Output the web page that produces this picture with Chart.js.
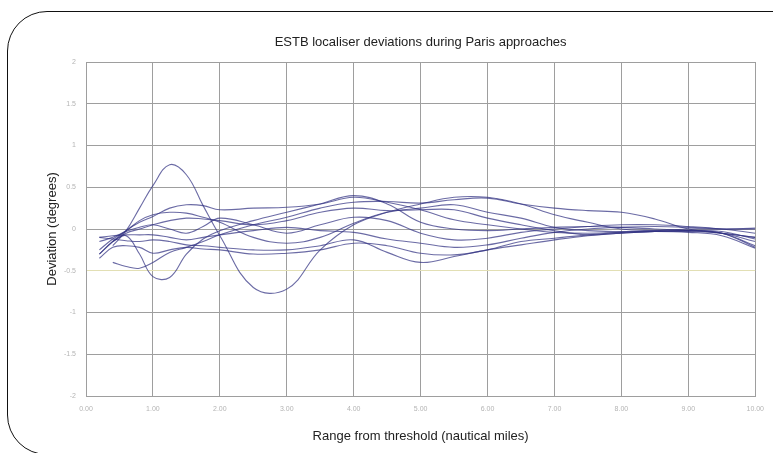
<!DOCTYPE html>
<html>
<head>
<meta charset="utf-8">
<script src="https://cdn.jsdelivr.net/npm/chart.js@4.4.0/dist/chart.umd.min.js"></script>
<style>
  html, body { margin: 0; padding: 0; background: #fff; }
  #wrap { position: relative; width: 773px; height: 453px; overflow: hidden; }
  #frame {
    position: absolute; left: 7px; top: 11px; width: 820px; height: 444px;
    box-sizing: border-box; border: 1.5px solid #111;
    border-top-left-radius: 40px; border-bottom-left-radius: 40px;
    pointer-events: none;
  }
</style>
</head>
<body>
<div id="wrap">
  <canvas id="devChart" width="773" height="453"></canvas>
  <div id="frame"></div>
</div>
<script>
// range from threshold (nautical miles)
const range = [0.2, 0.4, 0.6, 0.8, 1.0, 1.25, 1.5, 1.75, 2.0, 2.5, 3.0, 3.5, 4.0, 4.5, 5.0, 5.5, 6.0, 6.5, 7.0, 7.5, 8.0, 8.5, 9.0, 9.5, 10.0];

// deviation (degrees), one list per approach
const app1 = [null, -0.2, -0.02, 0.25, 0.52, 0.77, 0.65, 0.28, -0.08, -0.7, -0.72, -0.25, 0.05, 0.2, 0.3, 0.38, 0.38, 0.3, 0.17, 0.08, 0.0, -0.02, -0.03, -0.05, -0.1];
const app2 = [null, -0.15, -0.08, -0.3, -0.57, -0.58, -0.3, -0.12, -0.02, 0.1, 0.2, 0.3, 0.4, 0.3, 0.08, 0.0, -0.02, 0.0, 0.02, 0.03, 0.02, 0.0, -0.02, -0.05, -0.2];
const app3 = [-0.15, -0.1, -0.02, 0.1, 0.17, 0.2, 0.19, 0.14, 0.08, -0.1, -0.17, -0.1, 0.07, 0.2, 0.25, 0.29, 0.2, 0.13, 0.02, -0.02, -0.03, -0.03, -0.02, -0.05, -0.22];
const app4 = [-0.3, -0.15, -0.02, 0.08, 0.15, 0.25, 0.29, 0.28, 0.23, 0.25, 0.26, 0.3, 0.38, 0.32, 0.23, 0.11, 0.05, 0.0, -0.04, -0.05, -0.04, -0.02, 0.0, 0.0, 0.01];
const app5 = [null, -0.4, -0.45, -0.47, -0.4, -0.28, -0.22, -0.15, -0.07, 0.05, 0.14, 0.25, 0.32, 0.33, 0.31, 0.35, 0.37, 0.3, 0.25, 0.22, 0.2, 0.12, 0.0, -0.05, -0.1];
const app6 = [-0.1, -0.12, -0.14, -0.15, -0.13, -0.15, -0.19, -0.2, -0.22, -0.25, -0.25, -0.2, -0.13, -0.28, -0.4, -0.33, -0.25, -0.19, -0.13, -0.08, -0.05, -0.03, -0.02, -0.05, -0.15];
const app7 = [-0.1, -0.08, -0.07, -0.07, -0.07, -0.1, -0.13, -0.1, -0.07, -0.02, 0.02, -0.02, -0.04, -0.12, -0.17, -0.22, -0.19, -0.11, -0.04, 0.0, 0.02, 0.03, 0.02, 0.0, 0.0];
const app8 = [-0.25, -0.12, -0.03, 0.02, 0.05, 0.0, -0.05, 0.03, 0.13, 0.05, -0.05, 0.05, 0.14, 0.1, -0.05, -0.13, -0.11, -0.04, 0.0, 0.03, 0.05, 0.05, 0.03, 0.0, -0.05];
const app9 = [-0.35, -0.22, -0.2, -0.22, -0.29, -0.25, -0.22, -0.24, -0.25, -0.3, -0.29, -0.25, -0.17, -0.2, -0.29, -0.31, -0.25, -0.15, -0.11, -0.07, -0.04, -0.03, -0.04, -0.08, -0.23];
const app10 = [-0.3, -0.15, -0.05, 0.0, 0.05, 0.1, 0.13, 0.12, 0.1, 0.05, 0.1, 0.2, 0.25, 0.22, 0.23, 0.23, 0.13, 0.05, -0.02, -0.07, -0.05, -0.03, -0.02, -0.03, -0.12];

const approaches = [app1, app2, app3, app4, app5, app6, app7, app8, app9, app10];

const xTickLabels = ['0.00', '1.00', '2.00', '3.00', '4.00', '5.00', '6.00', '7.00', '8.00', '9.00', '10.00'];
const yTickLabels = ['-2', '-1.5', '-1', '-0.5', '0', '0.5', '1', '1.5', '2'];

const chartTitle = 'ESTB localiser deviations during Paris approaches';

// titre centré sur la zone de tracé
const titlePlugin = {
  id: 'plotTitle',
  afterDraw(chart) {
    const { ctx, chartArea } = chart;
    ctx.save();
    ctx.font = '13px "Liberation Sans", Arial, sans-serif';
    ctx.fillStyle = '#222';
    ctx.textAlign = 'center';
    ctx.textBaseline = 'middle';
    ctx.fillText(chartTitle, (chartArea.left + chartArea.right) / 2, 42);
    ctx.restore();
  }
};

const datasets = approaches.map(vals => ({
  data: vals.map((v, i) => ({ x: range[i], y: v })),
  borderColor: 'rgba(50, 50, 130, 0.72)',
  borderWidth: 1.1,
  pointRadius: 0,
  tension: 0.4,
  fill: false
}));

const devChart = new Chart(document.getElementById('devChart'), {
  type: 'line',
  data: { datasets: datasets },
  options: {
    responsive: false,
    animation: false,
    layout: { padding: { top: 62, right: 14, left: 0, bottom: 0 } },
    plugins: {
      legend: { display: false },
      tooltip: { enabled: false }
    },
    scales: {
      x: {
        type: 'linear',
        min: 0,
        max: 10,
        afterFit: s => { s.height = 57; },
        grid: { color: '#9e9e9e', lineWidth: 1, drawTicks: false },
        border: { color: '#9e9e9e' },
        ticks: {
          stepSize: 1,
          padding: 9,
          maxRotation: 0,
          autoSkip: false,
          color: '#b4b4b4',
          font: { size: 7, family: '"Liberation Sans", Arial, sans-serif' },
          callback: (v, i) => xTickLabels[i]
        },
        title: {
          display: true,
          text: 'Range from threshold (nautical miles)',
          color: '#222',
          padding: { top: 4, bottom: 9 },
          font: { size: 13, family: '"Liberation Sans", Arial, sans-serif' }
        }
      },
      y: {
        min: -2,
        max: 2,
        afterFit: s => { s.width = 86; },
        grid: {
          color: c => (c.tick && c.tick.value === -0.5 ? '#e2dfb4' : '#9e9e9e'),
          lineWidth: 1,
          drawTicks: false
        },
        border: { color: '#9e9e9e' },
        ticks: {
          stepSize: 0.5,
          padding: 10,
          color: '#b4b4b4',
          font: { size: 7, family: '"Liberation Sans", Arial, sans-serif' },
          callback: (v, i) => yTickLabels[i]
        },
        title: {
          display: true,
          text: 'Deviation (degrees)',
          color: '#222',
          padding: { top: 45, bottom: 4 },
          font: { size: 13, family: '"Liberation Sans", Arial, sans-serif' }
        }
      }
    }
  },
  plugins: [titlePlugin]
});
</script>
</body>
</html>
